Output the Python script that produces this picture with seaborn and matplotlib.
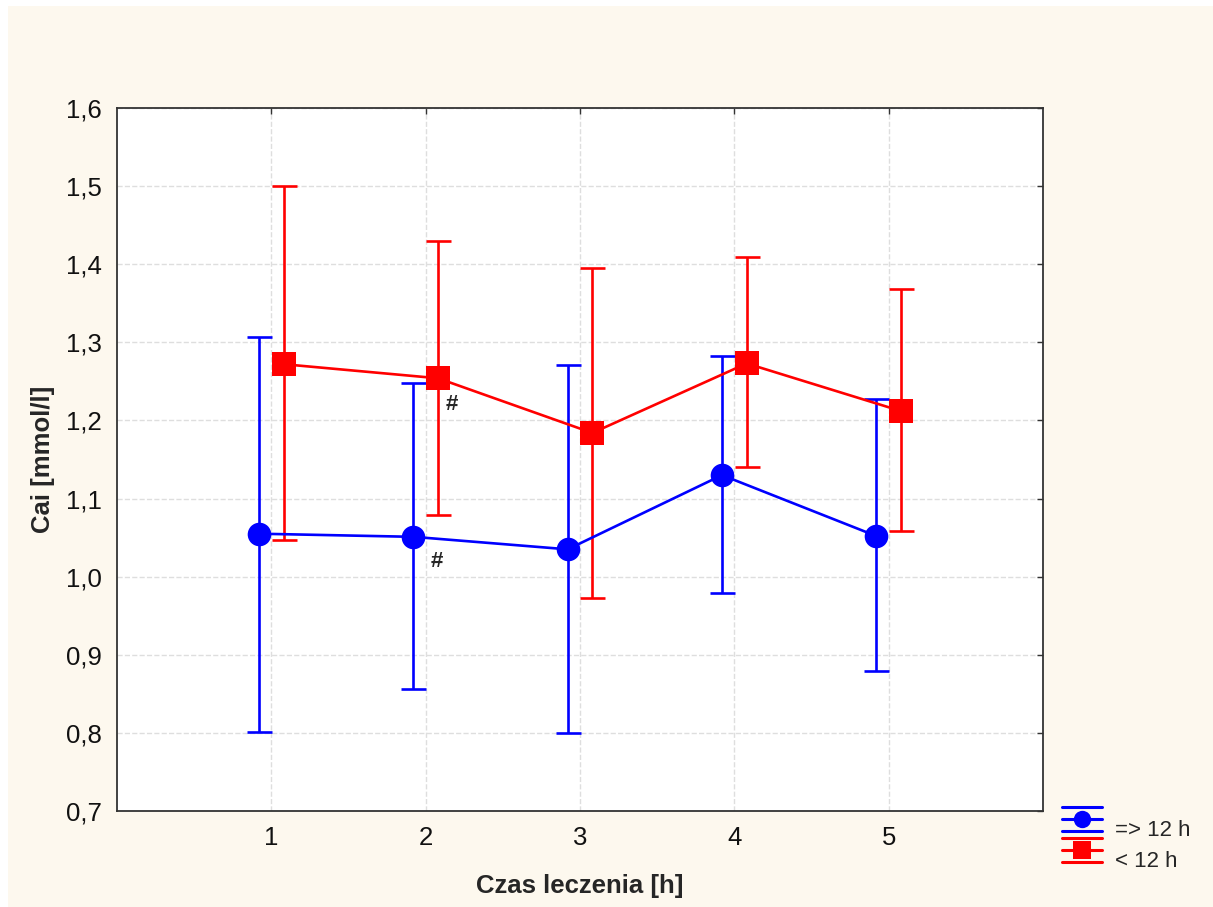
import seaborn as sns
import pandas as pd
import numpy as np
from matplotlib import pyplot as plt
import matplotlib.ticker as mtick
from matplotlib.patches import Rectangle
from matplotlib.lines import Line2D
from matplotlib.legend_handler import HandlerBase

hours = [1, 2, 3, 4, 5]
long_mean = [1.055, 1.051, 1.035, 1.130, 1.052]
long_lo = [0.801, 0.856, 0.800, 0.979, 0.879]
long_hi = [1.307, 1.248, 1.271, 1.282, 1.227]
short_mean = [1.272, 1.254, 1.184, 1.273, 1.212]
short_lo = [1.047, 1.079, 0.973, 1.140, 1.058]
short_hi = [1.500, 1.430, 1.395, 1.409, 1.368]
groups = ['=> 12 h', '< 12 h']

sns.set_style("whitegrid")
plt.rcParams['font.family'] = ['Liberation Sans', 'DejaVu Sans']

df = pd.DataFrame({
    'x': np.array(hours * 2, dtype=float) + np.repeat([-0.08, 0.08], 5),
    'y': long_mean + short_mean,
    'lo': long_lo + short_lo,
    'hi': long_hi + short_hi,
    'grupa': np.repeat(groups, 5),
})

colors = {'=> 12 h': '#0000ff', '< 12 h': '#ff0000'}
markers = {'=> 12 h': 'o', '< 12 h': 's'}


# legend entry like the original software: three bars with the marker in the middle
class ErrLegend(HandlerBase):
    def __init__(self, color, marker, **kw):
        super().__init__(**kw)
        self.color = color
        self.marker = marker

    def create_artists(self, legend, orig, xd, yd, width, height, fontsize, trans):
        cy = yd + height / 2
        arts = []
        for dy in (-height * 0.5, 0, height * 0.5):
            arts.append(Line2D([xd, xd + width], [cy + dy, cy + dy], color=self.color, lw=2.2,
                               transform=trans))
        arts.append(Line2D([xd + width / 2], [cy], marker=self.marker, color=self.color,
                           markersize=12.5, markeredgewidth=0, transform=trans))
        return arts


fig = plt.figure(figsize=(12.13, 9.07), dpi=100)
fig.patch.set_facecolor('white')
fig.patches.append(Rectangle((8 / 1213, 0), 1, 1 - 6 / 907, transform=fig.transFigure,
                             facecolor='#fdf8ee', edgecolor='none', zorder=-10))
ax = fig.add_axes([117 / 1213, 1 - 811 / 907, (1043 - 117) / 1213, (811 - 108) / 907])
ax.set_facecolor('white')

for g in groups:
    d = df[df.grupa == g]
    ax.errorbar(d.x, d.y, yerr=[d.y - d.lo, d.hi - d.y], fmt='none',
                ecolor=colors[g], elinewidth=1.9, capsize=9, capthick=1.9, zorder=3)

sns.lineplot(data=df, x='x', y='y', hue='grupa', style='grupa', palette=colors,
             markers=markers, dashes=False, markersize=17, markeredgewidth=0,
             linewidth=1.9, ax=ax, legend=False, zorder=4)

ax.text(2.03, 1.02, '#', fontsize=16, fontweight='bold', ha='left', va='center')
ax.text(2.13, 1.22, '#', fontsize=16, fontweight='bold', ha='left', va='center')

ax.set_xlim(0, 6)
ax.set_ylim(0.7, 1.6)
ax.set_xticks(hours)
ax.set_yticks(np.arange(0.7, 1.61, 0.1))
ax.yaxis.set_major_formatter(mtick.FuncFormatter(lambda v, p: f'{v:.1f}'.replace('.', ',')))
ax.tick_params(direction='in', length=4, width=1, colors='#333333', labelcolor='#111111',
               labelsize=18.5, top=True, right=True, pad=11)
ax.grid(True, color='#dedede', linestyle='--', linewidth=1)
for s in ax.spines.values():
    s.set_color('#333333')
    s.set_linewidth(1.3)

ax.set_xlabel('Czas leczenia [h]', fontsize=18.5, fontweight='bold', labelpad=17)
ax.set_ylabel('Cai [mmol/l]', fontsize=18.5, fontweight='bold', labelpad=8)

proxies = [Line2D([], [], color=colors[g]) for g in groups]
fig.legend(proxies, groups, loc='upper left', bbox_to_anchor=(1062 / 1213, 1 - 816 / 907),
           frameon=False, fontsize=16, handlelength=1.8, handleheight=1.3,
           handletextpad=0.6, labelspacing=0.3, borderpad=0, borderaxespad=0,
           handler_map={proxies[0]: ErrLegend(colors[groups[0]], 'o'),
                        proxies[1]: ErrLegend(colors[groups[1]], 's')})

fig.savefig('out.png', dpi=100)
